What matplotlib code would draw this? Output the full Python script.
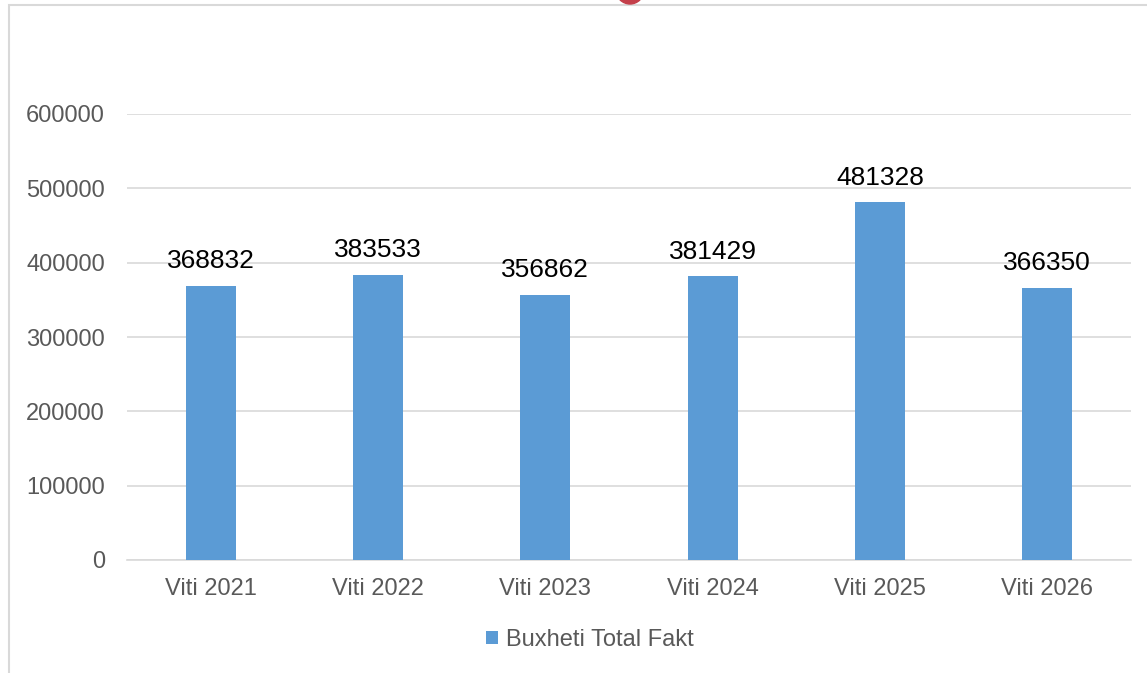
import matplotlib.pyplot as plt
from matplotlib.patches import Rectangle, Ellipse

plt.rcParams['font.family'] = ['Liberation Sans', 'DejaVu Sans']

categories = ["Viti 2021", "Viti 2022", "Viti 2023", "Viti 2024", "Viti 2025", "Viti 2026"]
values = [368832, 383533, 356862, 381429, 481328, 366350]
series_name = "Buxheti Total Fakt"
yticks = [0, 100000, 200000, 300000, 400000, 500000, 600000]

W, H = 1147, 673
fig = plt.figure(figsize=(W / 100, H / 100), dpi=100)
ax = fig.add_axes([127 / W, 1 - 560 / H, (1131 - 127) / W, (560 - 114) / H])

x = range(len(categories))
bars = ax.bar(x, values, width=0.3, color="#5B9BD5", label=series_name, zorder=3)

for b, v in zip(bars, values):
    ax.annotate(str(v), (b.get_x() + b.get_width() / 2, v), xytext=(0, 9),
                textcoords="offset points", ha="center", va="bottom",
                fontsize=19, color="black")

ax.set_xlim(-0.5, len(categories) - 0.5)
ax.set_ylim(0, 600000)
ax.set_yticks(yticks)
ax.set_yticklabels([str(t) for t in yticks])
ax.set_xticks(list(x))
ax.set_xticklabels(categories)
ax.tick_params(axis="both", length=0, labelsize=17, colors="#595959")
ax.tick_params(axis="y", pad=16)
ax.tick_params(axis="x", pad=13)
ax.grid(axis="y", color="#d9d9d9", linewidth=1.2, zorder=0)
for s in ["top", "right", "left"]:
    ax.spines[s].set_visible(False)
ax.spines["bottom"].set_color("#d9d9d9")
ax.spines["bottom"].set_linewidth(1.2)

fig.legend(handles=[bars], labels=[series_name], loc="center",
           bbox_to_anchor=(590 / W, 1 - 640 / H), frameon=False,
           fontsize=17, labelcolor="#595959", handlelength=0.5, handleheight=0.5,
           handletextpad=0.35)

# chart frame (left/top edges visible)
fig.patches.append(Rectangle((8.5 / W, -0.1), 1.2, 1 - 5.5 / H + 0.1,
                             transform=fig.transFigure, fill=False,
                             edgecolor="#d9d9d9", linewidth=1.5))
# cut-off logo at top
fig.patches.append(Ellipse((630 / W, 1 + 10 / H), 28 / W, 28 / H,
                           transform=fig.transFigure, color="#c43f4a", zorder=5))

fig.savefig("out.png", dpi=100)
